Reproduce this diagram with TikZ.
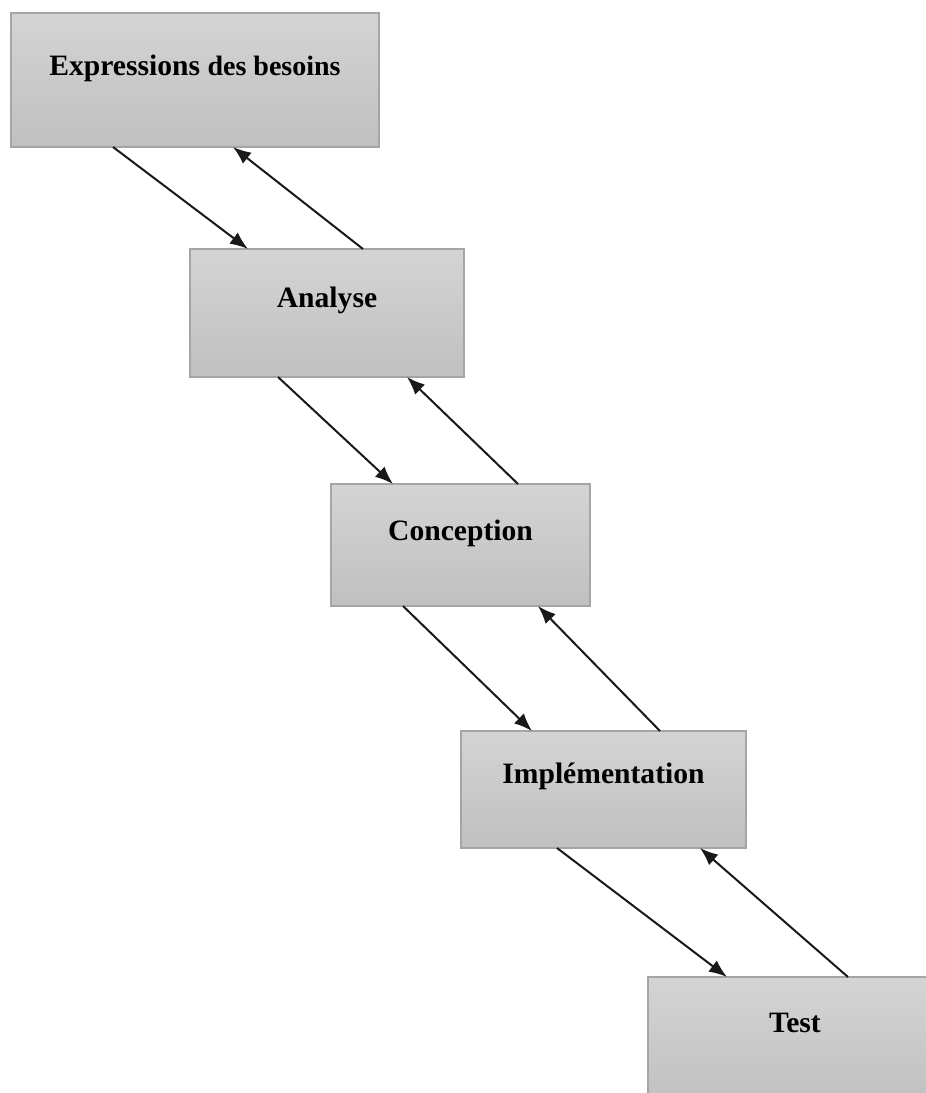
\documentclass[tikz,border=0pt]{standalone}
\usepackage{fontspec}
\setmainfont{Liberation Serif}
\usetikzlibrary{arrows.meta,calc}
\definecolor{boxtop}{RGB}{212,212,212}
\definecolor{boxbot}{RGB}{192,192,192}
\definecolor{boxline}{RGB}{165,165,165}
\tikzset{
  phase/.style={draw=boxline, line width=1.6pt, top color=boxtop, bottom color=boxbot,
    rectangle, inner sep=0pt, outer sep=0pt, anchor=north west},
  lbl/.style={anchor=base, inner sep=0pt, font=\bfseries\fontsize{29.6pt}{34pt}\selectfont},
  flow/.style={line width=2pt, black!90, -{Latex[length=18pt,width=14pt]}}
}
\begin{document}
\begin{tikzpicture}[x=1pt,y=-1pt]
\useasboundingbox (0,0) rectangle (926,1093);
\fill[white] (0,0) rectangle (926,1093);
\clip (0,0) rectangle (926,1093);

% phase boxes
\node[phase, minimum width=368pt, minimum height=134pt] (b1) at (11,13) {};
\node[phase, minimum width=274pt, minimum height=128pt] (b2) at (190,249) {};
\node[phase, minimum width=259pt, minimum height=122pt] (b3) at (331,484) {};
\node[phase, minimum width=285pt, minimum height=117pt] (b4) at (461,731) {};
\node[phase, minimum width=294pt, minimum height=130pt] (b5) at (648,977) {};

% phase names
\node[lbl] (t1) at ($(b1.north)+(0,62)$) {Expressions {\fontsize{28pt}{34pt}\selectfont des besoins}};
\node[lbl] (t2) at ($(b2.north)+(0,58)$) {Analyse};
\node[lbl] (t3) at ($(b3.north)+(0,56)$) {Conception};
\node[lbl] (t4) at ($(b4.north)+(0,52)$) {Implémentation};
\node[lbl] (t5) at ($(b5.north)+(0,55)$) {Test};

% forward and backward transitions
\draw[flow] ($(b1.south west)+(102,0)$) -- ($(b2.north west)+(58,0)$);
\draw[flow] ($(b2.north west)+(173,0)$) -- ($(b1.south west)+(222,0)$);

\draw[flow] ($(b2.south west)+(88,0)$) -- ($(b3.north west)+(62,0)$);
\draw[flow] ($(b3.north west)+(187,0)$) -- ($(b2.south west)+(217,0)$);

\draw[flow] ($(b3.south west)+(72,0)$) -- ($(b4.north west)+(71,0)$);
\draw[flow] ($(b4.north west)+(199,0)$) -- ($(b3.south west)+(207,0)$);

\draw[flow] ($(b4.south west)+(96,0)$) -- ($(b5.north west)+(79,0)$);
\draw[flow] ($(b5.north west)+(200,0)$) -- ($(b4.south west)+(239,0)$);
\end{tikzpicture}
\end{document}
